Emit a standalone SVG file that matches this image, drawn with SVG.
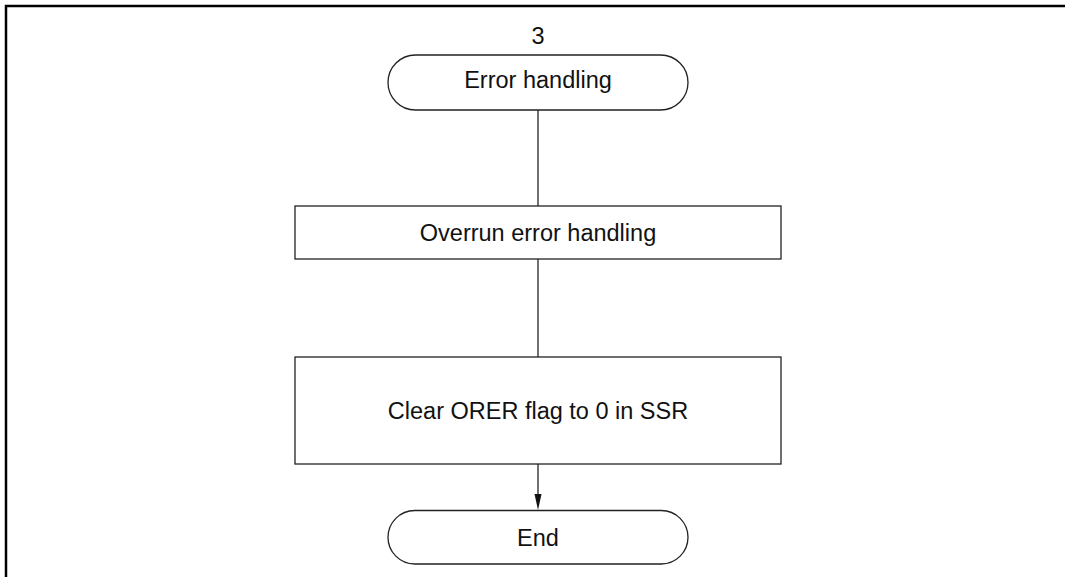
<svg xmlns="http://www.w3.org/2000/svg" width="1065" height="577" viewBox="0 0 1065 577">
<style>
.frame{fill:none;stroke:#000;stroke-width:2.5}
.shape{fill:#fff;stroke:#222;stroke-width:1.3}
.conn{fill:none;stroke:#111;stroke-width:1.2}
text{font-family:"Liberation Sans",Arial,sans-serif;font-size:23.5px;fill:#111;text-anchor:middle}
</style>
<rect width="1065" height="577" fill="#fff"/>
<path class="frame" d="M6,577 V6 H1065"/>
<text x="538" y="44">3</text>
<g id="connectors">
<line class="conn" x1="538" y1="110" x2="538" y2="206"/>
<line class="conn" x1="538" y1="259" x2="538" y2="357"/>
<path class="conn" d="M538,464 V494"/>
<path d="M534.5,494 L541.5,494 L538,510 Z" fill="#111"/>
</g>
<g id="start">
<rect class="shape" x="388" y="55" width="300" height="55" rx="27.5" ry="27.5"/>
<text x="538" y="88">Error handling</text>
</g>
<g id="overrun">
<rect class="shape" x="295" y="206" width="486" height="53"/>
<text x="538" y="241">Overrun error handling</text>
</g>
<g id="clear">
<rect class="shape" x="295" y="357" width="486" height="107"/>
<text x="538" y="419">Clear ORER flag to 0 in SSR</text>
</g>
<g id="end">
<rect class="shape" x="388" y="510.5" width="300" height="53.5" rx="26.75" ry="26.75"/>
<text x="538" y="546">End</text>
</g>
</svg>
